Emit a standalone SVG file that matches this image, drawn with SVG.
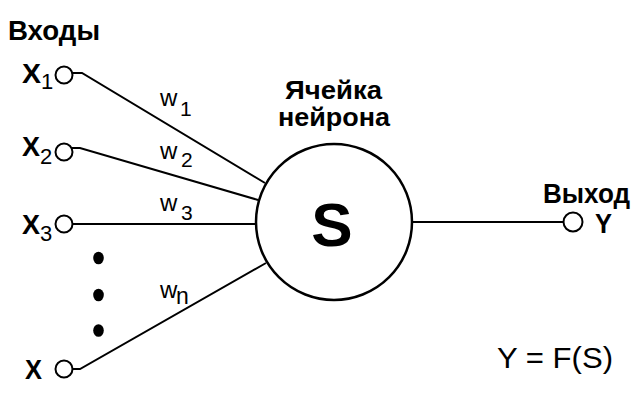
<svg xmlns="http://www.w3.org/2000/svg" width="640" height="408" viewBox="0 0 640 408">
<style>
.ln{stroke:#000;stroke-width:2;fill:none}
.pin{stroke:#000;stroke-width:2;fill:#fff}
.b{font-family:"Liberation Sans",Arial,sans-serif;font-weight:bold;fill:#000}
.n{font-family:"Liberation Sans",Arial,sans-serif;font-weight:normal;fill:#000}
</style>
<rect width="640" height="408" fill="#fff"/>
<g id="connectors">
<polyline class="ln" points="72,73 82,73 265,183"/>
<polyline class="ln" points="72,148 80,148 258,200"/>
<line class="ln" x1="72" y1="224" x2="256" y2="224"/>
<polyline class="ln" points="72,369 80,369 266,263"/>
<line class="ln" x1="412" y1="222" x2="564" y2="222"/>
</g>
<g id="title-inputs"><text class="b" x="8" y="40" font-size="28" textLength="92" lengthAdjust="spacingAndGlyphs">Входы</text></g>
<g id="x1"><circle class="pin" cx="64" cy="75" r="8.5"/><text class="b" x="22" y="83" font-size="28" textLength="19" lengthAdjust="spacingAndGlyphs">X</text><text class="n" x="41" y="89" font-size="22">1</text></g>
<g id="x2"><circle class="pin" cx="64" cy="152" r="8.5"/><text class="b" x="22" y="156" font-size="28" textLength="18" lengthAdjust="spacingAndGlyphs">X</text><text class="n" x="40" y="164" font-size="22">2</text></g>
<g id="x3"><circle class="pin" cx="64" cy="224" r="8.5"/><text class="b" x="22" y="234" font-size="28" textLength="18" lengthAdjust="spacingAndGlyphs">X</text><text class="n" x="40" y="241" font-size="22">3</text></g>
<g id="xn"><circle class="pin" cx="64" cy="369" r="8.5"/><text class="b" x="25" y="379" font-size="27" textLength="17" lengthAdjust="spacingAndGlyphs">X</text></g>
<g id="dots"><ellipse cx="98.5" cy="258" rx="5.3" ry="6.3"/><ellipse cx="98.5" cy="295" rx="5.3" ry="6.3"/><ellipse cx="98.5" cy="330.5" rx="5.3" ry="6.3"/></g>
<g id="weights">
<text class="n" x="160" y="106" font-size="24">w</text><text class="n" x="180" y="116" font-size="21">1</text>
<text class="n" x="160" y="159" font-size="24">w</text><text class="n" x="181" y="167" font-size="21">2</text>
<text class="n" x="160" y="211" font-size="24">w</text><text class="n" x="181" y="220" font-size="21">3</text>
<text class="n" x="160" y="298" font-size="24">w</text><text class="n" x="176" y="304" font-size="23">n</text>
</g>
<g id="neuron">
<text class="b" x="285" y="99" font-size="26" textLength="97" lengthAdjust="spacingAndGlyphs">Ячейка</text>
<text class="b" x="278" y="126" font-size="26" textLength="112" lengthAdjust="spacingAndGlyphs">нейрона</text>
<circle cx="334" cy="222" r="78" fill="#fff" stroke="#000" stroke-width="2.5"/>
<text class="b" x="332" y="246" font-size="62" text-anchor="middle">S</text>
</g>
<g id="output">
<text class="b" x="543" y="203" font-size="27" textLength="87" lengthAdjust="spacingAndGlyphs">Выход</text>
<circle class="pin" cx="573" cy="222" r="9.5"/>
<text class="b" x="595" y="233" font-size="27" textLength="17" lengthAdjust="spacingAndGlyphs">Y</text>
</g>
<g id="formula"><text class="n" x="497" y="368" font-size="30" textLength="116" lengthAdjust="spacingAndGlyphs">Y = F(S)</text></g>
</svg>
